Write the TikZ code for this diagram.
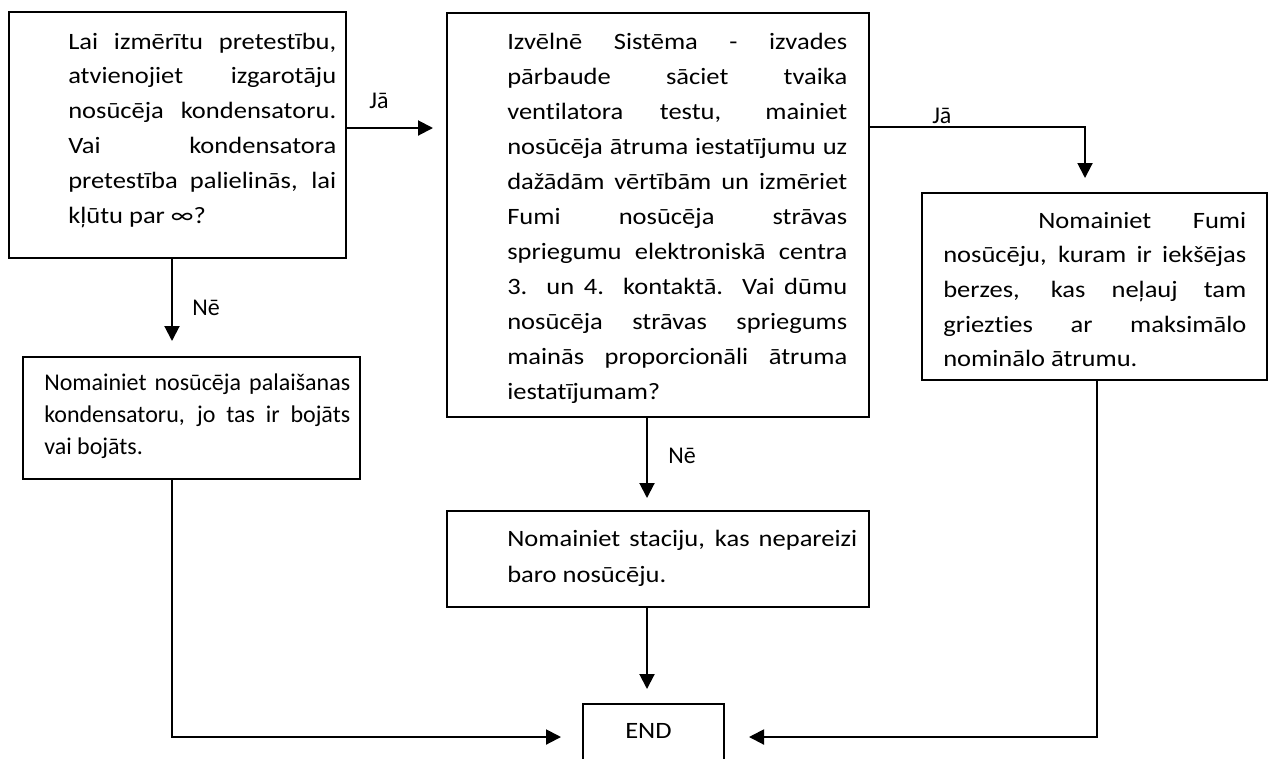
\documentclass[tikz,border=0pt]{standalone}
\usepackage{fontspec}
\setmainfont{Carlito}[Ligatures=NoCommon]
\newfontfamily\wfont[FakeStretch=1.13,Ligatures=NoCommon]{Carlito}
\usetikzlibrary{arrows.meta}
\tikzset{
  box/.style={draw=black, line width=1.5pt, rectangle, inner sep=0pt},
  txt/.style={inner sep=0pt, anchor=base west, align=left},
  lbl/.style={inner sep=0pt, font=\fontsize{18pt}{20pt}\selectfont},
  arr/.style={line width=1.5pt, -{Triangle[length=11.25pt,width=11.25pt]}},
  ln/.style={line width=1.5pt}
}
\newcommand\SL[1]{\makebox[\linewidth][s]{#1}}
\begin{document}
\begin{tikzpicture}[x=0.75pt,y=-0.75pt]
\useasboundingbox (0,0) rectangle (1269,758);
\clip (0,0) rectangle (1269,758);
% boxes
\node[box, minimum width=252.75pt, minimum height=184.5pt] (A) at (177.5,135) {};
\node[box, minimum width=316.5pt, minimum height=303pt] (B) at (658,215) {};
\node[box, minimum width=316.5pt, minimum height=72pt] (C) at (658,559) {};
\node[box, minimum width=252.75pt, minimum height=91.5pt] (D) at (191.5,418) {};
\node[box, minimum width=258.75pt, minimum height=140.25pt] (E) at (1094.5,286.5) {};
\node[box, minimum width=105.75pt, minimum height=65.25pt, anchor=north] (END) at (653.5,703) {};
% texts
\node[txt] (tA) at (68,49) {\parbox[t]{201pt}{\wfont\fontsize{17.6pt}{26.1pt}\selectfont
\SL{Lai izmērītu pretestību,}\\
\SL{atvienojiet izgarotāju}\\
\SL{nosūcēja kondensatoru.}\\
\SL{Vai kondensatora}\\
\SL{pretestība palielinās, lai}\\
kļūtu par ∞?}};
\node[txt] (tB) at (507,49) {\parbox[t]{255pt}{\wfont\fontsize{17.6pt}{26.25pt}\selectfont
\SL{Izvēlnē Sistēma - izvades}\\
\SL{pārbaude sāciet tvaika}\\
\SL{ventilatora testu, mainiet}\\
\SL{nosūcēja ātruma iestatījumu uz}\\
\SL{dažādām vērtībām un izmēriet}\\
\SL{Fumi nosūcēja strāvas}\\
\SL{spriegumu elektroniskā centra}\\
\SL{3. un 4. kontaktā. Vai dūmu}\\
\SL{nosūcēja strāvas spriegums}\\
\SL{mainās proporcionāli ātruma}\\
iestatījumam?}};
\node[txt] (tC) at (507,546) {\parbox[t]{262.5pt}{\wfont\fontsize{17.6pt}{27pt}\selectfont
\SL{Nomainiet staciju, kas nepareizi}\\
baro nosūcēju.}};
\node[txt] (tD) at (44,390) {\parbox[t]{229.5pt}{\fontsize{18pt}{24.2pt}\selectfont
\SL{Nomainiet nosūcēja palaišanas}\\
\SL{kondensatoru, jo tas ir bojāts}\\
vai bojāts.}};
\node[txt] (tE) at (943,228) {\parbox[t]{227.25pt}{\wfont\fontsize{17.6pt}{26.06pt}\selectfont
\SL{\hspace*{71.25pt}Nomainiet Fumi}\\
\SL{nosūcēju, kuram ir iekšējas}\\
\SL{berzes, kas neļauj tam}\\
\SL{griezties ar maksimālo}\\
nominālo ātrumu.}};
\node[lbl, anchor=base west, font=\wfont\fontsize{17.6pt}{20pt}\selectfont] (tEND) at (625,738) {END};
% labels
\node[lbl, anchor=base] (j1) at (379,108) {Jā};
\node[lbl, anchor=base west] (n1) at (192,315) {Nē};
\node[lbl, anchor=base west] (j2) at (932,123) {Jā};
\node[lbl, anchor=base west] (n2) at (668,463) {Nē};
% helper coordinates
\coordinate (jy1) at (0,128);
\coordinate (jy2) at (0,127);
\coordinate (ex) at (1085,0);
\coordinate (x1) at (172,0);
\coordinate (x2) at (647,0);
\coordinate (x3) at (1097,0);
\coordinate (ey) at (0,737);
% connectors
\draw[arr] (A.east |- jy1) -- ([xshift=-9.75pt]B.west |- jy1);
\draw[arr] (B.east |- jy2) -| ([yshift=10.5pt]ex |- E.north);
\draw[arr] (x1 |- A.south) -- ([yshift=11.25pt]x1 |- D.north);
\draw[arr] (x1 |- D.south) |- ([xshift=-15.75pt]END.west |- ey);
\draw[arr] (x2 |- B.south) -- ([yshift=9pt]x2 |- C.north);
\draw[arr] (x2 |- C.south) -- ([yshift=10.5pt]x2 |- END.north);
\draw[arr] (x3 |- E.south) |- ([xshift=18pt]END.east |- ey);
\end{tikzpicture}
\end{document}
